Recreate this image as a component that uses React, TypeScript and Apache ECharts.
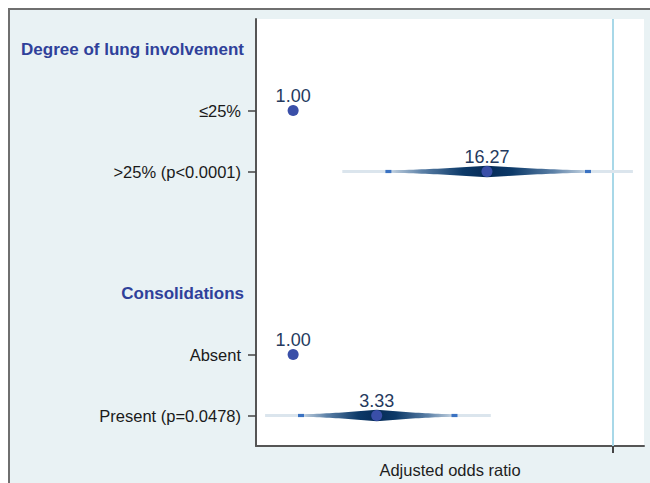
import React, { useEffect, useRef } from "react";
import * as echarts from "echarts";

// Rows of the forest plot (top to bottom)
const categories = [
  "Degree of lung involvement",
  "≤25%",
  ">25% (p<0.0001)",
  "",
  "Consolidations",
  "Absent",
  "Present (p=0.0478)",
];
const headerRows = ["Degree of lung involvement", "Consolidations"];

// Adjusted odds ratios (null = no estimate on that row)
const oddsRatios: (number | null)[] = [null, 1.0, 16.27, null, null, 1.0, 3.33];
// 95% confidence interval (inner marks)
const ciLower: (number | null)[] = [null, null, 3.94, null, null, null, 1.12];
const ciUpper: (number | null)[] = [null, null, 69.7, null, null, null, 10.2];
// Outer (wider) interval shown as faint line
const outerLower: (number | null)[] = [null, null, 2.03, null, null, null, 0.668];
const outerUpper: (number | null)[] = [null, null, 133, null, null, null, 17.2];

const referenceValue = 100;
const axisMinOR = 0.586;
const axisMaxOR = 156;
const axisTicksOR = [100];
const xAxisName = "Adjusted odds ratio";

const lg = (v: number) => Math.log10(v);

export default function App() {
  const ref = useRef<HTMLDivElement>(null);

  useEffect(() => {
    if (!ref.current) return;
    const chart = echarts.init(ref.current, null, { renderer: "svg" });
    const font = "'Liberation Sans', Arial, sans-serif";

    const pointData: any[] = [];
    oddsRatios.forEach((v, i) => {
      if (v != null) pointData.push({ value: [lg(v), i], raw: v });
    });

    const ciData: any[] = [];
    oddsRatios.forEach((v, i) => {
      if (v != null && ciLower[i] != null) {
        ciData.push([
          lg(outerLower[i] as number),
          lg(ciLower[i] as number),
          lg(v),
          lg(ciUpper[i] as number),
          lg(outerUpper[i] as number),
          i,
        ]);
      }
    });

    const option: any = {
      animation: false,
      backgroundColor: "transparent",
      textStyle: { fontFamily: font },
      grid: {
        left: 256,
        right: 6,
        top: 19,
        bottom: 32,
        show: true,
        backgroundColor: "#ffffff",
        borderWidth: 0,
      },
      xAxis: {
        type: "value",
        min: lg(axisMinOR),
        max: lg(axisMaxOR),
        name: xAxisName,
        nameLocation: "middle",
        nameGap: 15,
        nameTextStyle: { fontSize: 16.5, color: "#1e1e1e", fontFamily: font },
        axisLine: { show: true, onZero: false, lineStyle: { color: "#555555", width: 2 } },
        axisTick: {
          show: true,
          customValues: axisTicksOR.map(lg),
          length: 7,
          lineStyle: { color: "#444444", width: 2 },
        },
        axisLabel: { show: false },
        splitLine: { show: false },
      },
      yAxis: {
        type: "category",
        data: categories,
        inverse: true,
        boundaryGap: true,
        axisLine: { show: true, onZero: false, lineStyle: { color: "#555555", width: 2 } },
        axisTick: {
          show: true,
          alignWithLabel: true,
          length: 8,
          lineStyle: { color: "#444444", width: 1.5 },
          interval: (index: number, value: string) =>
            value !== "" && headerRows.indexOf(value) < 0,
        },
        axisLabel: {
          margin: 12,
          interval: 0,
          formatter: (v: string) =>
            headerRows.indexOf(v) >= 0 ? `{h|${v}}` : `{n|${v}}`,
          rich: {
            h: {
              fontSize: 17,
              fontWeight: "bold",
              color: "#2f419a",
              fontFamily: font,
            },
            n: {
              fontSize: 16.5,
              color: "#1a1a1a",
              fontFamily: font,
              padding: [0, 3, 0, 0],
            },
          },
        },
        splitLine: { show: false },
      },
      series: [
        {
          type: "custom",
          z: 2,
          silent: true,
          data: ciData,
          encode: { x: [0, 1, 2, 3, 4], y: 5 },
          renderItem: (params: any, api: any) => {
            const row = api.value(5);
            const pOL = api.coord([api.value(0), row]);
            const pL = api.coord([api.value(1), row]);
            const pC = api.coord([api.value(2), row]);
            const pH = api.coord([api.value(3), row]);
            const pOH = api.coord([api.value(4), row]);
            const y = pC[1];
            const hMax = 4.4;
            const top: number[][] = [];
            const bottom: number[][] = [];
            const steps = 24;
            for (let k = 0; k <= steps; k++) {
              const t = k / steps;
              const x = pL[0] + (pC[0] - pL[0]) * t;
              const h = 1.3 + hMax * Math.pow(t, 1.5);
              top.push([x, y - h]);
              bottom.push([x, y + h]);
            }
            for (let k = 1; k <= steps; k++) {
              const t = 1 - k / steps;
              const x = pC[0] + (pH[0] - pC[0]) * (k / steps);
              const h = 1.3 + hMax * Math.pow(t, 1.5);
              top.push([x, y - h]);
              bottom.push([x, y + h]);
            }
            const poly = top.concat(bottom.reverse());
            const c = (pC[0] - pL[0]) / (pH[0] - pL[0]);
            return {
              type: "group",
              children: [
                {
                  type: "rect",
                  shape: { x: pOL[0], y: y - 1.5, width: pOH[0] - pOL[0], height: 3 },
                  style: { fill: "#dbe5ed" },
                },
                {
                  type: "polygon",
                  shape: { points: poly },
                  style: {
                    fill: new echarts.graphic.LinearGradient(0, 0, 1, 0, [
                      { offset: 0, color: "#c9d7e4" },
                      { offset: c * 0.35, color: "#5a7fa6" },
                      { offset: c * 0.75, color: "#0d3a69" },
                      { offset: c, color: "#062b57" },
                      { offset: c + (1 - c) * 0.25, color: "#0d3a69" },
                      { offset: c + (1 - c) * 0.65, color: "#5a7fa6" },
                      { offset: 1, color: "#c9d7e4" },
                    ]),
                  },
                },
                {
                  type: "rect",
                  shape: { x: pL[0] - 3, y: y - 1.6, width: 6, height: 3.2 },
                  style: { fill: "#3a72c2" },
                },
                {
                  type: "rect",
                  shape: { x: pH[0] - 3, y: y - 1.6, width: 6, height: 3.2 },
                  style: { fill: "#3a72c2" },
                },
              ],
            };
          },
        },
        {
          type: "scatter",
          z: 3,
          data: pointData,
          symbol: "circle",
          symbolSize: 11,
          itemStyle: { color: "#3a4fa8", opacity: 1 },
          label: {
            show: true,
            position: "top",
            distance: 0,
            fontSize: 18,
            color: "#253a5e",
            fontFamily: font,
            formatter: (p: any) => p.data.raw.toFixed(2),
          },
          markLine: {
            silent: true,
            symbol: "none",
            label: { show: false },
            lineStyle: { color: "#a8d8e8", width: 2, type: "solid" },
            data: [{ xAxis: lg(referenceValue) }],
            z: 1,
          },
        },
      ],
    };

    chart.setOption(option);
    return () => chart.dispose();
  }, []);

  return (
    <div style={{ position: "fixed", left: 0, top: 0, width: 650, height: 483, background: "#ffffff" }}>
      <div
        style={{
          position: "absolute",
          left: 8,
          top: 8,
          width: 642,
          height: 475,
          boxSizing: "border-box",
          background: "#e9f2f4",
          borderTop: "2px solid #6f6f6f",
          borderLeft: "2px solid #6f6f6f",
        }}
      />
      <div ref={ref} style={{ position: "absolute", left: 0, top: 0, width: 650, height: 483 }} />
    </div>
  );
}
